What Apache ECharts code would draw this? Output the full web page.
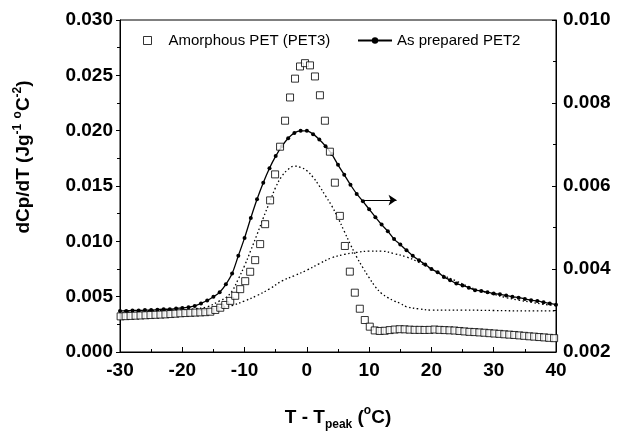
<!DOCTYPE html>
<html>
<head>
<meta charset="utf-8">
<script src="https://cdn.jsdelivr.net/npm/echarts@6/dist/echarts.min.js"></script>
<style>html,body{margin:0;padding:0;background:#fff}#c{width:619px;height:432px}</style>
</head>
<body>
<div id="c"></div>
<script>
// Amorphous PET (PET3) — left axis
const tSq = [-29.9,-29.1,-28.3,-27.5,-26.7,-25.9,-25.1,-24.3,-23.5,-22.7,-21.9,-21.1,-20.3,-19.5,-18.7,-17.9,-17.1,-16.3,-15.5,-14.7,-13.9,-13.1,-12.3,-11.5,-10.7,-9.9,-9.1,-8.3,-7.5,-6.7,-5.9,-5.1,-4.3,-3.5,-2.7,-1.9,-1.1,-0.3,0.5,1.3,2.1,2.9,3.7,4.5,5.3,6.1,6.9,7.7,8.5,9.3,10.1,10.9,11.7,12.5,13.3,14.1,14.9,15.7,16.5,17.3,18.1,18.9,19.7,20.5,21.3,22.1,22.9,23.7,24.5,25.3,26.1,26.9,27.7,28.5,29.3,30.1,30.9,31.7,32.5,33.3,34.1,34.9,35.7,36.5,37.3,38.1,38.9,39.7];
const vSq = [0.00322,0.00324,0.00326,0.00328,0.00330,0.00332,0.00334,0.00336,0.00338,0.00340,0.00343,0.00346,0.00350,0.00352,0.00354,0.00356,0.00358,0.00360,0.00364,0.00380,0.00400,0.00425,0.00462,0.00508,0.00568,0.00640,0.00725,0.00830,0.00975,0.01155,0.01370,0.01605,0.01855,0.02090,0.02300,0.02470,0.02580,0.02610,0.02590,0.02490,0.02320,0.02090,0.01810,0.01530,0.01230,0.00958,0.00726,0.00536,0.00391,0.00289,0.00229,0.00195,0.00190,0.00192,0.00198,0.00203,0.00206,0.00205,0.00202,0.00200,0.00200,0.00199,0.00200,0.00203,0.00200,0.00198,0.00196,0.00194,0.00190,0.00186,0.00182,0.00180,0.00177,0.00174,0.00170,0.00167,0.00164,0.00160,0.00157,0.00154,0.00150,0.00146,0.00142,0.00139,0.00135,0.00132,0.00128,0.00125];

// As prepared PET2 — right axis
const tPet = [-30,-29,-28,-27,-26,-25,-24,-23,-22,-21,-20,-19,-18,-17,-16,-15,-14,-13,-12,-11,-10,-9,-8,-7,-6,-5,-4,-3,-2,-1,0,1,2,3,4,5,6,7,8,9,10,11,12,13,14,15,16,17,18,19,20,21,22,23,24,25,26,27,28,29,30,31,32,33,34,35,36,37,38,39,40];
const vPet = [0.00299,0.00299,0.00300,0.00300,0.00301,0.00301,0.00302,0.00303,0.00303,0.00305,0.00306,0.00308,0.00311,0.00317,0.00324,0.00333,0.00344,0.00363,0.00389,0.00432,0.00475,0.00523,0.00568,0.00608,0.00643,0.00672,0.00696,0.00715,0.00728,0.00733,0.00733,0.00725,0.00712,0.00696,0.00677,0.00651,0.00627,0.00603,0.00581,0.00563,0.00544,0.00525,0.00507,0.00491,0.00472,0.00459,0.00445,0.00432,0.00421,0.00411,0.00400,0.00392,0.00381,0.00373,0.00365,0.00360,0.00355,0.00349,0.00347,0.00344,0.00341,0.00339,0.00336,0.00333,0.00331,0.00328,0.00325,0.00323,0.00320,0.00317,0.00314];

// Deconvolution components (dotted) — right axis
const tC1 = [-30,-25,-20,-18,-16,-14,-13,-12,-11,-10,-9,-8,-7,-6,-5,-4,-3,-2,-1,0,1,2,3,4,5,6,7,8,9,10,11,12,13,14,15,16,18,20,25,30,35,40];
const vC1 = [0.00299,0.00300,0.00301,0.00304,0.00309,0.00323,0.00331,0.00347,0.00376,0.00408,0.00445,0.00483,0.00523,0.00560,0.00597,0.00624,0.00640,0.00648,0.00645,0.00637,0.00621,0.00600,0.00576,0.00552,0.00523,0.00491,0.00459,0.00429,0.00403,0.00379,0.00357,0.00341,0.00331,0.00323,0.00317,0.00309,0.00304,0.00301,0.00301,0.00300,0.00299,0.00299];
const tC2 = [-30,-25,-20,-17,-15,-14,-12,-10,-8,-6,-4,-2,0,2,4,6,8,10,12,14,16,18,20,22,24,26,28,30,32,34,36,38,40];
const vC2 = [0.00299,0.00300,0.00301,0.00301,0.00304,0.00307,0.00312,0.00323,0.00336,0.00352,0.00371,0.00384,0.00397,0.00413,0.00427,0.00435,0.00440,0.00443,0.00443,0.00437,0.00429,0.00416,0.00400,0.00384,0.00371,0.00357,0.00347,0.00339,0.00331,0.00325,0.00320,0.00315,0.00312];

// arrow annotation (points to right axis)
const arrowT = [8.8, 14.4];
const arrowV = 0.00566;

const zip = (a, b) => a.map((x, i) => [x, b[i]]);
const FONT = 'Liberation Sans, Arial, sans-serif';

const chart = echarts.init(document.getElementById('c'), null, {renderer: 'canvas'});
chart.setOption({
  animation: false,
  backgroundColor: '#fff',
  grid: {left: 120, right: 63, top: 20, bottom: 80, containLabel: false, outerBoundsMode: 'none',
         show: true, borderColor: '#000', borderWidth: 1},
  legend: [
    {
      data: [{name: 'Amorphous PET (PET3)', icon: 'rect', itemStyle: {color: '#fff', borderColor: '#000', borderWidth: 1}}],
      left: 138, top: 28, itemWidth: 8, itemHeight: 8,
      textStyle: {fontFamily: FONT, fontSize: 15, color: '#000', padding: [0, 0, 0, 12]}
    },
    {
      data: ['As prepared PET2'],
      left: 352, top: 28, itemWidth: 34, itemHeight: 8,
      textStyle: {fontFamily: FONT, fontSize: 15, color: '#000'}
    }
  ],
  xAxis: {
    type: 'value', min: -30, max: 40, interval: 10,
    name: '{a|T - T}{sub|peak}{a| (}{sup|o}{a|C)}',
    nameLocation: 'middle', nameGap: 53,
    nameTextStyle: {
      rich: {
        a: {fontFamily: FONT, fontSize: 19, fontWeight: 'bold', color: '#000', lineHeight: 26},
        sub: {fontFamily: FONT, fontSize: 12, fontWeight: 'bold', color: '#000', lineHeight: 26, verticalAlign: 'bottom'},
        sup: {fontFamily: FONT, fontSize: 12, fontWeight: 'bold', color: '#000', lineHeight: 26, verticalAlign: 'top'}
      }
    },
    axisLine: {onZero: false, lineStyle: {color: '#000', width: 1}},
    axisTick: {inside: true, length: 5, lineStyle: {color: '#000'}},
    minorTick: {show: true, splitNumber: 2, length: 3, lineStyle: {color: '#000'}},
    splitLine: {show: false},
    axisLabel: {fontFamily: FONT, fontSize: 19, fontWeight: 'bold', color: '#000', margin: 9}
  },
  yAxis: [
    {
      type: 'value', min: 0, max: 0.03, interval: 0.005, position: 'left',
      name: '{a|dCp/dT (Jg}{sup|-1}{a| }{sup|o}{a|C}{sup|-2}{a|)}',
      nameLocation: 'middle', nameGap: 84, nameRotate: 90,
      nameTextStyle: {
        padding: [0, 0, 0, 58],
        rich: {
          a: {fontFamily: FONT, fontSize: 19, fontWeight: 'bold', color: '#000', lineHeight: 24},
          sup: {fontFamily: FONT, fontSize: 12, fontWeight: 'bold', color: '#000', lineHeight: 24, verticalAlign: 'top'}
        }
      },
      axisLine: {show: true, onZero: false, lineStyle: {color: '#000', width: 1}},
      axisTick: {show: true, inside: false, length: 4, lineStyle: {color: '#000'}},
      minorTick: {show: true, splitNumber: 2, length: 3, lineStyle: {color: '#000'}},
      splitLine: {show: false},
      axisLabel: {fontFamily: FONT, fontSize: 19, fontWeight: 'bold', color: '#000', margin: 7, formatter: v => v.toFixed(3)}
    },
    {
      type: 'value', min: 0.002, max: 0.010, interval: 0.002, position: 'right',
      axisLine: {show: true, onZero: false, lineStyle: {color: '#000', width: 1}},
      axisTick: {show: true, inside: true, length: 4, lineStyle: {color: '#000'}},
      minorTick: {show: true, splitNumber: 2, length: 3, lineStyle: {color: '#000'}},
      splitLine: {show: false},
      axisLabel: {fontFamily: FONT, fontSize: 19, fontWeight: 'bold', color: '#000', margin: 7, formatter: v => v.toFixed(3)}
    }
  ],
  series: [
    {
      name: 'comp1', type: 'line', yAxisIndex: 1, data: zip(tC1, vC1), smooth: 0.4,
      showSymbol: false, lineStyle: {color: '#000', width: 1.3, type: [1.5, 2.5]}, z: 2, silent: true
    },
    {
      name: 'comp2', type: 'line', yAxisIndex: 1, data: zip(tC2, vC2), smooth: 0.4,
      showSymbol: false, lineStyle: {color: '#000', width: 1.3, type: [1.5, 2.5]}, z: 2, silent: true
    },
    {
      name: 'As prepared PET2', type: 'line', yAxisIndex: 1, data: zip(tPet, vPet), smooth: 0.3,
      symbol: 'circle', symbolSize: 4, showSymbol: true, showAllSymbol: true,
      itemStyle: {color: '#000'}, lineStyle: {color: '#000', width: 1.3}, z: 3,
      markLine: {
        silent: true, symbol: ['none', 'arrow'], symbolSize: 8,
        label: {show: false},
        lineStyle: {color: '#000', width: 1, type: 'solid'},
        data: [[{coord: [arrowT[0], arrowV]}, {coord: [arrowT[1], arrowV]}]]
      }
    },
    {
      name: 'Amorphous PET (PET3)', type: 'scatter', yAxisIndex: 0, data: zip(tSq, vSq),
      symbol: 'rect', symbolSize: 7,
      itemStyle: {color: '#fff', borderColor: '#000', borderWidth: 1}, z: 5
    }
  ]
});
</script>
</body>
</html>
